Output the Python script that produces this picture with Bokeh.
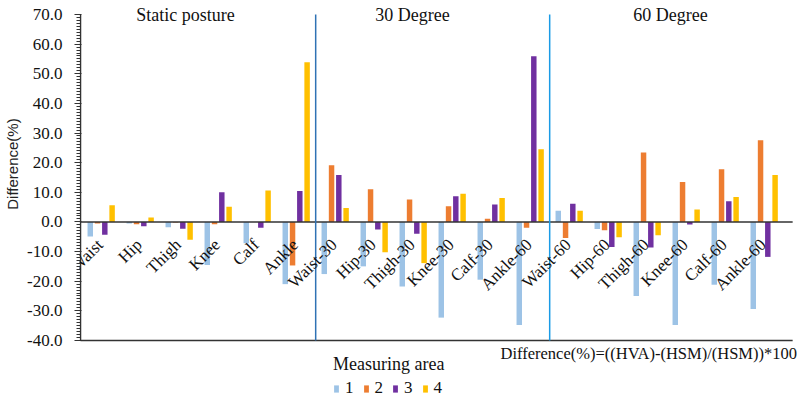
import math
from bokeh.plotting import figure
from bokeh.models import (Range1d, Label, Legend, LegendItem, FixedTicker,
                          ColumnDataSource, NumeralTickFormatter)
from bokeh.transform import dodge
from bokeh.core.properties import value
from bokeh.embed import file_html
from bokeh.resources import INLINE

categories = ["Waist", "Hip", "Thigh", "Knee", "Calf", "Ankle",
              "Waist-30", "Hip-30", "Thigh-30", "Knee-30", "Calf-30", "Ankle-60",
              "Waist-60", "Hip-60", "Thigh-60", "Knee-60", "Calf-60", "Ankle-60"]
area1 = [-4.9, -0.5, -1.8, -14.5, -7.2, -21.0,
         -17.6, -15.0, -21.8, -32.3, -19.5, -34.8,
         3.8, -2.4, -25.0, -34.8, -21.2, -29.4]
area2 = [-0.5, -0.8, -0.2, -0.8, 0.0, -14.7,
         19.1, 11.0, 7.6, 5.3, 1.1, -2.0,
         -5.4, -2.8, 23.4, 13.5, 17.8, 27.6]
area3 = [-4.3, -1.5, -2.3, 10.0, -2.0, 10.4,
         15.8, -2.6, -4.0, 8.7, 5.9, 55.9,
         6.1, -8.5, -8.6, -0.9, 7.0, -11.8]
area4 = [5.6, 1.5, -6.0, 5.1, 10.6, 53.9,
         4.7, -10.2, -13.9, 9.5, 8.1, 24.5,
         3.8, -5.2, -4.5, 4.2, 8.4, 15.8]
series_names = ["1", "2", "3", "4"]
colors = ["#9DC3E6", "#ED7D31", "#7030A0", "#FFC000"]
sections = ["Static posture", "30 Degree", "60 Degree"]
y_ticks = [-40, -30, -20, -10, 0, 10, 20, 30, 40, 50, 60, 70]
y_min, y_max = -40, 70

src = ColumnDataSource(dict(i=list(range(len(categories))), cat=categories,
                            a1=area1, a2=area2, a3=area3, a4=area4))

SERIF = "Liberation Serif"
x_lo = -0.53                       # left edge of the category area
x_hi = x_lo + len(categories) + 0.26

p = figure(width=798, height=396, output_backend="svg", toolbar_location=None,
           x_range=Range1d(-0.556, 17.88), y_range=Range1d(-58.92, 74.05),
           min_border_left=79, min_border_top=2, min_border_right=0,
           min_border_bottom=0)
p.outline_line_color = None
p.grid.visible = False
p.xaxis.visible = False
p.background_fill_color = "white"

offsets = [-0.28, -0.093, 0.093, 0.28]
renderers = []
for k, col in enumerate(["a1", "a2", "a3", "a4"]):
    r = p.vbar(x=dodge("i", offsets[k], range=p.x_range), top=col, bottom=0,
               width=0.14, source=src, fill_color=colors[k], line_color=None)
    renderers.append(r)

AX = "#333333"
# axis lines (left axis, bottom border, zero line)
p.segment(x0=[x_lo, x_lo, x_lo], y0=[y_min, y_min, 0],
          x1=[x_lo, x_hi, x_hi], y1=[y_max, y_min, 0],
          line_color=AX, line_width=1.5)
# section separators
p.segment(x0=[5.5], y0=[y_min], x1=[5.5], y1=[y_max], line_color="#2F72B4", line_width=1.5)
p.segment(x0=[11.5], y0=[y_min], x1=[11.5], y1=[y_max], line_color="#1A9BE6", line_width=1.5)

# category labels next to the zero line
p.text(x="i", y=0, text="cat", source=src, angle=math.pi / 4,
       text_align="right", text_baseline="middle", x_offset=-1, y_offset=20,
       text_font=value(SERIF), text_font_size="17px", text_color="#111111")

# section titles
for name, xpos in zip(sections, [2.16, 7.98, 14.6]):
    p.add_layout(Label(x=xpos, y=69.7, text=name, text_align="center",
                       text_baseline="middle",
                       text_font=SERIF, text_font_size="18px", text_color="#111111"))

# formula note
p.add_layout(Label(x=10.24, y=-44.4, text="Difference(%)=((HVA)-(HSM)/(HSM))*100",
                   text_align="left", text_baseline="middle",
                   text_font=SERIF, text_font_size="16.5px", text_color="#111111"))

# y axis
ya = p.yaxis[0]
ya.ticker = FixedTicker(ticks=y_ticks, minor_ticks=list(range(y_min, y_max + 1)))
ya.formatter = NumeralTickFormatter(format="0.0")
ya.axis_line_color = None
ya.major_tick_line_color = AX
ya.minor_tick_line_color = AX
ya.major_tick_line_width = 1.2
ya.major_tick_out = 5
ya.major_tick_in = 2
ya.minor_tick_out = 3
ya.minor_tick_in = 1
ya.major_label_standoff = 12
ya.major_label_text_font = SERIF
ya.major_label_text_font_size = "17px"
ya.major_label_text_color = "#111111"
ya.axis_label = "\u00a0" * 17 + "Difference(%)"
ya.axis_label_text_font = "Liberation Sans"
ya.axis_label_text_font_style = "normal"
ya.axis_label_text_font_size = "15px"
ya.axis_label_text_color = "#222222"
ya.axis_label_standoff = 3

legend = Legend(items=[LegendItem(label=n, renderers=[r]) for n, r in zip(series_names, renderers)],
                orientation="horizontal", title="Measuring area",
                title_text_font=SERIF, title_text_font_size="18px",
                title_text_font_style="normal", title_text_color="#111111",
                title_standoff=3,
                label_text_font=SERIF, label_text_font_size="17px",
                label_text_color="#111111", label_standoff=6, label_width=8,
                label_height=16,
                glyph_width=6, glyph_height=9, spacing=9, padding=0, margin=0,
                border_line_color=None, background_fill_alpha=0,
                location=(254, -2))
p.add_layout(legend)

open("out.html", "w").write(file_html(p, INLINE))
